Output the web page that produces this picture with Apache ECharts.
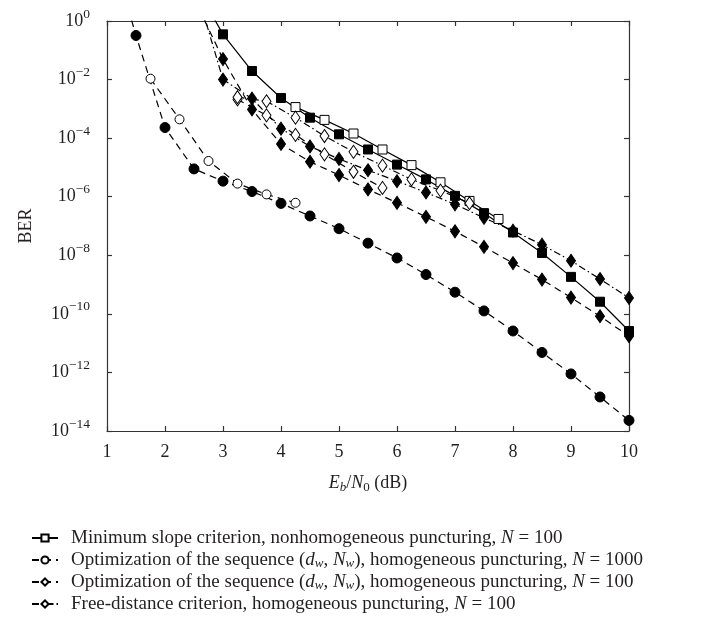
<!DOCTYPE html>
<html><head><meta charset="utf-8">
<script src="https://cdn.jsdelivr.net/npm/echarts@6/dist/echarts.min.js"></script>
<style>html,body{margin:0;padding:0;background:#fff}#c{width:719px;height:622px}</style>
</head><body><div id="c"></div>
<script>
// ---- data (x = Eb/N0 in dB, y = BER) ----
const legendNames = [
  'Minimum slope criterion, nonhomogeneous puncturing, N = 100',
  'Optimization of the sequence (dw, Nw), homogeneous puncturing, N = 1000',
  'Optimization of the sequence (dw, Nw), homogeneous puncturing, N = 100',
  'Free-distance criterion, homogeneous puncturing, N = 100'
];
const xTicks = [1, 2, 3, 4, 5, 6, 7, 8, 9, 10];

// Minimum slope, solid: open squares
const xOpenSquare = [4.25, 4.75, 5.25, 5.75, 6.25, 6.75, 7.25, 7.75];
const berOpenSquare = [1.15e-3, 4.2e-4, 1.44e-4, 4.1e-5, 1.2e-5, 3.1e-6, 7.2e-7, 1.74e-7];
// Minimum slope, solid: filled squares
const xFilledSquare = [2.5, 3, 3.5, 4, 4.5, 5, 5.5, 6, 6.5, 7, 7.5, 8, 8.5, 9, 9.5, 10];
const berFilledSquare = [20, 0.35, 1.96e-2, 2.35e-3, 5.0e-4, 1.35e-4, 4.1e-5, 1.25e-5, 3.9e-6, 1.07e-6, 2.75e-7, 6.0e-8, 1.2e-8, 1.83e-9, 2.6e-10, 2.6e-11];

// Optimization (dw,Nw), N = 1000, dashed: open circles
const xOpenCircle = [1.75, 2.25, 2.75, 3.25, 3.75, 4.25];
const berOpenCircle = [1.07e-2, 4.4e-4, 1.66e-5, 2.8e-6, 1.2e-6, 6.2e-7];
// Optimization (dw,Nw), N = 1000, dashed: filled circles
const xFilledCircle = [1.25, 1.5, 2, 2.5, 3, 3.5, 4, 4.5, 5, 5.5, 6, 6.5, 7, 7.5, 8, 8.5, 9, 9.5, 10];
const berFilledCircle = [16, 0.32, 2.3e-4, 8.9e-6, 3.4e-6, 1.5e-6, 5.9e-7, 2.2e-7, 8.1e-8, 2.6e-8, 8.1e-9, 2.2e-9, 5.5e-10, 1.26e-10, 2.6e-11, 4.8e-12, 8.9e-13, 1.45e-13, 2.3e-14];

// Optimization (dw,Nw), N = 100, dashed: open diamonds
const xOpenDiamondDash = [3.25, 3.75, 4.25, 4.75, 5.25, 5.75];
const berOpenDiamondDash = [2.1e-3, 6.0e-4, 1.3e-4, 2.8e-5, 7.1e-6, 2.0e-6];
// Optimization (dw,Nw), N = 100, dashed: filled diamonds
const xFilledDiamondDash = [2.5, 3, 3.5, 4, 4.5, 5, 5.5, 6, 6.5, 7, 7.5, 8, 8.5, 9, 9.5, 10];
const berFilledDiamondDash = [6, 5.0e-2, 9.5e-4, 6.3e-5, 1.56e-5, 5.5e-6, 1.77e-6, 6.2e-7, 2.05e-7, 6.6e-8, 1.94e-8, 5.4e-9, 1.48e-9, 3.6e-10, 8.3e-11, 1.73e-11];

// Free distance, dash-dot: open diamonds
const xOpenDiamondDot = [3.25, 3.75, 4.25, 4.75, 5.25, 5.75, 6.25, 6.75, 7.25];
const berOpenDiamondDot = [2.5e-3, 1.82e-3, 5.0e-4, 1.18e-4, 3.4e-5, 1.15e-5, 3.9e-6, 1.62e-6, 6.0e-7];
// Free distance, dash-dot: filled diamonds
const xFilledDiamondDot = [2.5, 3, 3.5, 4, 4.5, 5, 5.5, 6, 6.5, 7, 7.5, 8, 8.5, 9, 9.5, 10];
const berFilledDiamondDot = [22, 1.0e-2, 2.24e-3, 2.1e-4, 5.2e-5, 1.95e-5, 8.0e-6, 3.4e-6, 1.4e-6, 5.5e-7, 1.9e-7, 6.9e-8, 2.3e-8, 6.5e-9, 1.55e-9, 3.5e-10];

// ---- chart ----
const FONT = 'Liberation Serif';
const INK = '#231f20';
const zip = (xs, ys) => xs.map((x, i) => [x, ys[i]]);
const DASH = [7, 5];
const DASHDOT = [7, 3, 1.5, 3];

function mk(name, xs, ys, symbol, size, filled, dash) {
  return {
    name: name, type: 'line', data: zip(xs, ys),
    xAxisIndex: 0, yAxisIndex: 0,
    symbol: symbol, symbolSize: size, showAllSymbol: true, clip: true,
    lineStyle: { color: '#000', width: 1.2, type: dash },
    itemStyle: { color: filled ? '#000' : '#fff', borderColor: '#000', borderWidth: 1 },
    emphasis: { disabled: true }, animation: false
  };
}

const series = [
  mk('filledSquare', xFilledSquare, berFilledSquare, 'rect', 9, true, 'solid'),
  mk(legendNames[0], xOpenSquare, berOpenSquare, 'rect', 9, false, 'solid'),
  mk('filledCircle', xFilledCircle, berFilledCircle, 'circle', 10, true, DASH),
  mk(legendNames[1], xOpenCircle, berOpenCircle, 'circle', 9, false, DASH),
  mk('filledDiamondDash', xFilledDiamondDash, berFilledDiamondDash, 'diamond', [9, 13], true, DASH),
  mk(legendNames[2], xOpenDiamondDash, berOpenDiamondDash, 'diamond', [9, 13], false, DASH),
  mk('filledDiamondDot', xFilledDiamondDot, berFilledDiamondDot, 'diamond', [9, 13], true, DASHDOT),
  mk(legendNames[3], xOpenDiamondDot, berOpenDiamondDot, 'diamond', [9, 13], false, DASHDOT)
];

function supExp(v) {
  const e = Math.round(Math.log10(v));
  return '{b|10}{sup|' + (e < 0 ? '\u2212' + (-e) : String(e)) + '}';
}

function legendFmt(name) {
  return '{t|' + name
    .replace('(dw, Nw)', '(}{i|d}{s|w}{t|, }{i|N}{s|w}{t|)')
    .replace(/, N = /, ', }{i|N}{t| = ') + '}';
}

const LF = 19;
const axisLineStyle = { color: '#333', width: 1.2 };
const chart = echarts.init(document.getElementById('c'), null, { renderer: 'canvas' });
chart.setOption({
  animation: false,
  backgroundColor: '#fff',
  textStyle: { fontFamily: FONT },
  grid: { left: 107, right: 90, top: 21, bottom: 191, containLabel: false },
  xAxis: [{
    type: 'value', min: xTicks[0], max: xTicks[xTicks.length - 1], interval: 1,
    position: 'bottom',
    axisLine: { lineStyle: axisLineStyle },
    axisTick: { inside: true, length: 5, lineStyle: axisLineStyle },
    splitLine: { show: false },
    axisLabel: { fontFamily: FONT, fontSize: 18, color: INK, margin: 12 },
    name: '{i|E}{s|b}{t|/}{i|N}{s0|0}{t| (dB)}', nameLocation: 'middle', nameGap: 41,
    nameTextStyle: {
      fontFamily: FONT, fontSize: 18, color: INK,
      rich: {
        t: { fontFamily: FONT, fontSize: 18, color: INK, lineHeight: 22 },
        i: { fontFamily: FONT, fontSize: 18, fontStyle: 'italic', color: INK, lineHeight: 22 },
        s: { fontFamily: FONT, fontSize: 13, fontStyle: 'italic', color: INK, verticalAlign: 'bottom', lineHeight: 13 },
        s0: { fontFamily: FONT, fontSize: 13, color: INK, verticalAlign: 'bottom', lineHeight: 13 }
      }
    }
  }, {
    type: 'value', min: xTicks[0], max: xTicks[xTicks.length - 1], interval: 1,
    position: 'top',
    axisLine: { lineStyle: axisLineStyle },
    axisTick: { inside: true, length: 5, lineStyle: axisLineStyle },
    axisLabel: { show: false }, splitLine: { show: false }
  }],
  yAxis: [{
    type: 'log', logBase: 10, min: 1e-14, max: 1, interval: 2,
    position: 'left',
    axisLine: { lineStyle: axisLineStyle },
    axisTick: { inside: true, length: 5, lineStyle: axisLineStyle },
    minorTick: { show: false },
    splitLine: { show: false },
    axisLabel: {
      fontFamily: FONT, fontSize: 18, color: INK, margin: 17,
      formatter: supExp,
      rich: {
        b: { fontFamily: FONT, fontSize: 18, color: INK, lineHeight: 28 },
        sup: { fontFamily: FONT, fontSize: 13.5, color: INK, verticalAlign: 'top', lineHeight: 14 }
      }
    },
    name: 'BER', nameLocation: 'middle', nameGap: 72, nameRotate: 90,
    nameTextStyle: { fontFamily: FONT, fontSize: 18, color: INK }
  }, {
    type: 'log', logBase: 10, min: 1e-14, max: 1, interval: 2,
    position: 'right',
    axisLine: { lineStyle: axisLineStyle },
    axisTick: { inside: true, length: 5, lineStyle: axisLineStyle },
    axisLabel: { show: false }, splitLine: { show: false }, minorTick: { show: false }
  }],
  legend: {
    data: legendNames,
    orient: 'vertical', left: 31, top: 528, padding: 0, height: 94,
    itemWidth: 26, itemHeight: 9, itemGap: 2,
    selectedMode: false,
    formatter: legendFmt,
    textStyle: {
      fontFamily: FONT, fontSize: LF, color: INK, padding: [0, 0, 0, 8], lineHeight: 20,
      rich: {
        t: { fontFamily: FONT, fontSize: LF, color: INK, lineHeight: 20 },
        i: { fontFamily: FONT, fontSize: LF, fontStyle: 'italic', color: INK, lineHeight: 20 },
        s: { fontFamily: FONT, fontSize: 13, fontStyle: 'italic', color: INK, verticalAlign: 'bottom', lineHeight: 13 }
      }
    }
  },
  series: series
});
</script>
</body></html>
